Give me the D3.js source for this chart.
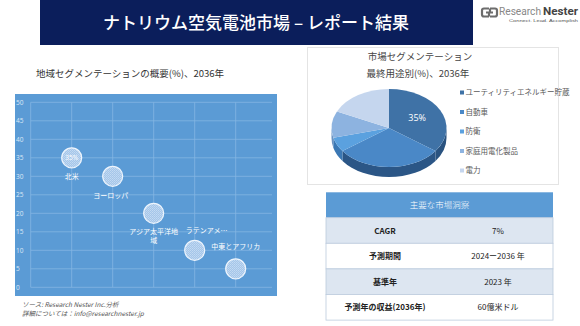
<!DOCTYPE html>
<html><head><meta charset="utf-8">
<script src="https://cdn.jsdelivr.net/npm/d3@7"></script>
<style>
html,body{margin:0;padding:0;background:#fff;}
svg{display:block;font-family:"Noto Sans CJK JP","Noto Sans",sans-serif;}
</style></head>
<body>
<svg id="c" width="580" height="326"></svg>
<script>
// ---------- data ----------
const titleText = "ナトリウム空気電池市場 – レポート結果";
const regions = ["北米","ヨーロッパ","アジア太平洋地域","ラテンアメリカ","中東とアフリカ"];
const regionLabelLines = [["北米"],["ヨーロッパ"],["アジア太平洋地","域"],["ラテンアメ…"],["中東とアフリカ"]];
const regionShares = [35,30,20,10,5];
const regionPos = [1,2,3,4,5];
const yTicks = [0,5,10,15,20,25,30,35,40,45,50];
const xGrid = [0,1,2,3,4,5];
const bubbleLabel = ["35%","","","",""];

const pieCategories = ["ユーティリティエネルギー貯蔵","自動車","防衛","家庭用電化製品","電力"];
const pieValues = [35,30,6,11,18];
const pieLabel = "35%";

const tableHeader = "主要な市場洞察";
const tableKeys = ["CAGR","予測期間","基準年","予測年の収益(2036年)"];
const tableVals = ["7%","2024ー2036 年","2023 年","60億米ドル"];

// ---------- drawing ----------
const svg = d3.select("#c");
const defs = svg.append("defs");

// banner
svg.append("rect").attr("x",40).attr("y",0).attr("width",433).attr("height",45).attr("fill","#0b1e5b");
svg.append("text").attr("x",256).attr("y",29).attr("text-anchor","middle").attr("fill","#fff")
  .attr("font-size",17).attr("font-weight",500).text(titleText);

// logo
const lg = svg.append("g");
lg.append("path").attr("d","M489,8.5 h-5 q-2,0 -2,2 v4 q0,2 2,2 h5 M486,12.5 h3 v4 M490,16.5 h5 q2,0 2,-2 v-4 q0,-2 -2,-2 h-5 M493,12.5 h-3 v-4")
  .attr("fill","none").attr("stroke","#6d6d6d").attr("stroke-width",2.2);
lg.append("text").attr("x",499).attr("y",15).attr("font-family","Roboto, 'Liberation Sans', sans-serif")
  .attr("font-size",10).attr("fill","#888").attr("textLength",42).attr("lengthAdjust","spacingAndGlyphs").text("Research");
lg.append("text").attr("x",543).attr("y",15).attr("font-family","Roboto, 'Liberation Sans', sans-serif")
  .attr("font-size",10).attr("font-weight",700).attr("fill","#444").attr("textLength",35).attr("lengthAdjust","spacingAndGlyphs").text("Nester");
lg.append("text").attr("x",509).attr("y",22).attr("font-family","'Liberation Sans', sans-serif")
  .attr("font-size",3.8).attr("fill","#555").attr("textLength",69).attr("lengthAdjust","spacingAndGlyphs").text("Connect. Lead. Accomplish");

// left subtitle
svg.append("text").attr("x",36).attr("y",77).attr("font-size",9.5).attr("fill","#333").text("地域セグメンテーションの概要(%)、2036年");

// left chart panel
svg.append("rect").attr("x",15).attr("y",94).attr("width",262).attr("height",202).attr("fill","#5b9bd5");
const x = d3.scaleLinear().domain([0,6]).range([30.7,276.7]);
const y = d3.scaleLinear().domain([0,50]).range([287.3,102.3]);
const gridCol = "#84b5e2";
const lc = svg.append("g");
lc.selectAll("line.h").data(yTicks).join("line").attr("class","h")
  .attr("x1",x(0)).attr("x2",272).attr("y1",d=>y(d)).attr("y2",d=>y(d)).attr("stroke",gridCol).attr("stroke-width",0.8);
lc.selectAll("line.v").data(xGrid).join("line").attr("class","v")
  .attr("x1",d=>x(d)).attr("x2",d=>x(d)).attr("y1",y(50)).attr("y2",y(0)).attr("stroke",gridCol).attr("stroke-width",0.8);
const yAxis = d3.axisLeft(y).tickValues(yTicks).tickSize(0).tickPadding(0);
const ya = lc.append("g").attr("transform","translate(16,0)").call(yAxis);
ya.select(".domain").remove();
ya.selectAll("text").attr("text-anchor","start").attr("x",0).attr("fill","#dce8f6").attr("font-size",6.5)
  .attr("font-family","'Open Sans','Noto Sans',sans-serif");

// bubble pattern
const pat = defs.append("pattern").attr("id","hatch").attr("patternUnits","userSpaceOnUse").attr("width",2).attr("height",2);
pat.append("rect").attr("width",2).attr("height",2).attr("fill","#a4c6ea");
pat.append("rect").attr("width",1).attr("height",1).attr("fill","#c4daf2");
pat.append("rect").attr("x",1).attr("y",1).attr("width",1).attr("height",1).attr("fill","#bcd4ee");

const bubbles = regions.map((r,i)=>({name:r,v:regionShares[i],p:regionPos[i],lines:regionLabelLines[i],lab:bubbleLabel[i]}));
lc.selectAll("circle.b").data(bubbles).join("circle").attr("class","b")
  .attr("cx",d=>x(d.p)).attr("cy",d=>y(d.v)).attr("r",10)
  .attr("fill","url(#hatch)").attr("stroke","#eef5fd").attr("stroke-width",1.2);
lc.selectAll("text.bl").data(bubbles.filter(d=>d.lab)).join("text").attr("class","bl")
  .attr("x",d=>x(d.p)).attr("y",d=>y(d.v)+2.5).attr("text-anchor","middle").attr("font-size",6.5)
  .attr("fill","#fff").attr("font-family","'Open Sans',sans-serif").text(d=>d.lab);
const labOff = [[0,19],[-2,19],[0,18],[12,-19.5],[0,-22.5]];
bubbles.forEach((d,i)=>{
  const t = lc.append("text").attr("text-anchor","middle").attr("font-size",7).attr("fill","#fff");
  d.lines.forEach((ln,j)=>{
    t.append("tspan").attr("x",x(d.p)+labOff[i][0]).attr("y",y(d.v)+labOff[i][1]+2.5+j*9.5).text(ln);
  });
});

// footer
svg.append("text").attr("x",22).attr("y",307).attr("font-size",6.5).attr("font-style","italic").attr("fill","#555").text("ソース: Research Nester Inc.分析");
svg.append("text").attr("x",22).attr("y",316).attr("font-size",6.5).attr("font-style","italic").attr("fill","#555").text("詳細については：info@researchnester.jp");

// pie panel
svg.append("rect").attr("x",307.5).attr("y",47.5).attr("width",251).attr("height",137).attr("fill","#fff").attr("stroke","#e4e4e4");
svg.append("text").attr("x",420).attr("y",60).attr("text-anchor","middle").attr("font-size",9.5).attr("fill","#444").text("市場セグメンテーション");
svg.append("text").attr("x",418).attr("y",77).attr("text-anchor","middle").attr("font-size",9.5).attr("fill","#444").text("最終用途別(%)、2036年");

const topCols = ["#3f72a6","#4a88c7","#5ba1df","#8db3e0","#c5d6ee"];
const sideCols = ["#2a5380","#2b5686","#3b78b4","#6a92c2","#9fb6d6"];
const cx=389, cy=128, rx=57.5, ry=39, depth=10;
const P = (t,dy=0)=>[cx+rx*Math.sin(t), cy-ry*Math.cos(t)+dy];
const arcs = d3.pie().sort(null).value(d=>d)(pieValues);
const pg = svg.append("g");
// sides
arcs.forEach((a,i)=>{
  const s0=Math.max(a.startAngle,Math.PI/2), s1=Math.min(a.endAngle,3*Math.PI/2);
  if(s0<s1){
    const p0=P(s0),p1=P(s1),q1=P(s1,depth),q0=P(s0,depth);
    pg.append("path").attr("d",`M${p0}A${rx},${ry} 0 0 1 ${p1}L${q1}A${rx},${ry} 0 0 0 ${q0}Z`).attr("fill",sideCols[i]);
  }
});
// tops
arcs.forEach((a,i)=>{
  const p0=P(a.startAngle),p1=P(a.endAngle);
  const large=(a.endAngle-a.startAngle)>Math.PI?1:0;
  pg.append("path").attr("d",`M${cx},${cy}L${p0}A${rx},${ry} 0 ${large} 1 ${p1}Z`).attr("fill",topCols[i]);
});
const mid = (arcs[0].startAngle+arcs[0].endAngle)/2;
const lp = [cx+rx*0.55*Math.sin(mid), cy-ry*0.55*Math.cos(mid)];
pg.append("text").attr("x",lp[0]).attr("y",lp[1]+3).attr("text-anchor","middle").attr("font-size",9)
  .attr("fill","#fff").attr("font-family","'Open Sans',sans-serif").text(pieLabel);

// legend
const lgY = d3.scalePoint().domain(pieCategories).range([92.5,170.5]);
const leg = svg.append("g");
leg.selectAll("rect").data(pieCategories).join("rect").attr("x",460).attr("y",d=>lgY(d)-2).attr("width",4).attr("height",4)
  .attr("fill",(d,i)=>topCols[i]);
leg.selectAll("text").data(pieCategories).join("text").attr("x",465.5).attr("y",d=>lgY(d)+2.8).attr("font-size",7.5)
  .attr("fill","#595959").text(d=>d);

// table
const tx0=326, tx1=553, hy0=192.3, hy1=217.7, rowH=25.6;
svg.append("rect").attr("x",tx0).attr("y",hy0).attr("width",tx1-tx0).attr("height",hy1-hy0).attr("fill","#5b9bd5");
svg.append("text").attr("x",(tx0+tx1)/2).attr("y",hy0+15.5).attr("text-anchor","middle").attr("font-size",8.5)
  .attr("fill","#fff").attr("font-weight",300).text(tableHeader);
const ry2 = d3.scaleBand().domain(tableKeys).range([hy1,hy1+rowH*tableKeys.length]);
const tg = svg.append("g");
tg.selectAll("rect").data(tableKeys).join("rect").attr("x",tx0).attr("y",d=>ry2(d)).attr("width",tx1-tx0).attr("height",ry2.bandwidth())
  .attr("fill",(d,i)=>i%2===0?"#dde6f1":"#fff").attr("stroke","#bccbdd").attr("stroke-width",0.8);
tg.selectAll("text.k").data(tableKeys).join("text").attr("class","k").attr("x",385).attr("y",d=>ry2(d)+ry2.bandwidth()/2+3)
  .attr("text-anchor","middle").attr("font-size",8).attr("font-weight",700).attr("fill","#222").text(d=>d);
tg.selectAll("text.v").data(tableVals).join("text").attr("class","v").attr("x",498).attr("y",(d,i)=>ry2(tableKeys[i])+ry2.bandwidth()/2+3)
  .attr("text-anchor","middle").attr("font-size",8).attr("fill","#222").text(d=>d);
</script>
</body></html>
